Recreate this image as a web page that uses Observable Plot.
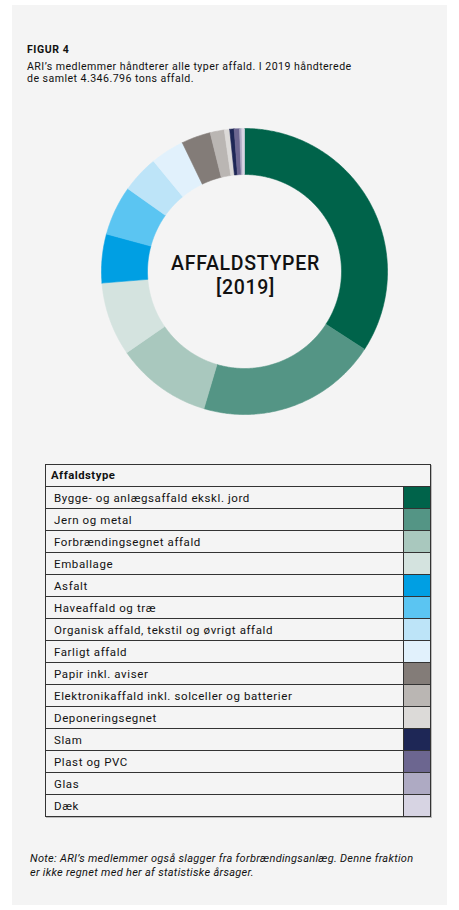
<!DOCTYPE html>
<html><head><meta charset="utf-8">
<script src="https://cdn.jsdelivr.net/npm/d3@7"></script>
<script src="https://cdn.jsdelivr.net/npm/@observablehq/plot@0.6"></script>
<style>
body{margin:0;background:#fff;font-family:Roboto,"Noto Sans",sans-serif;color:#111;width:459px;height:910px;position:relative;overflow:hidden;}
#panel{position:absolute;left:12px;top:5px;width:435px;height:900px;background:#f4f4f4;}
#title{position:absolute;left:27px;top:44px;font-size:10.5px;line-height:12.6px;font-weight:700;letter-spacing:0.6px;}
#subtitle{position:absolute;left:27px;top:60.8px;font-size:10.6px;line-height:12.6px;width:410px;letter-spacing:0.45px;}
#donut{position:absolute;left:94px;top:121px;width:300px;height:300px;}
#donut text{letter-spacing:0.7px;}
#legend{position:absolute;left:45px;top:464px;width:386px;border:1px solid #333;box-sizing:border-box;box-shadow:1px 1px 0 #bbb;}
#legend .head{height:21px;line-height:21px;border-bottom:1px solid #333;font-weight:700;font-size:11.3px;padding-left:5px;letter-spacing:0.5px;}
#legend .row{display:flex;height:21px;border-bottom:1px solid #333;}
#legend .row:last-child{border-bottom:none;}
#legend .lab{flex:1;padding-left:8px;line-height:22px;font-size:11.5px;letter-spacing:0.6px;}
#legend .sw{width:26px;border-left:1px solid #333;}
#note{position:absolute;left:30px;top:852px;font-size:11px;line-height:14px;font-style:italic;width:420px;letter-spacing:0.3px;}
</style></head><body>
<div id="panel"></div>
<div id="title">FIGUR 4</div>
<div id="subtitle">ARI’s medlemmer håndterer alle typer affald. I 2019 håndterede<br>de samlet 4.346.796 tons affald.</div>
<div id="donut"></div>
<div id="legend"></div>
<div id="note">Note: ARI’s medlemmer også slagger fra forbrændingsanlæg. Denne fraktion<br>er ikke regnet med her af statistiske årsager.</div>
<script>
const types = ["Bygge- og anlægsaffald ekskl. jord","Jern og metal","Forbrændingsegnet affald","Emballage","Asfalt","Haveaffald og træ","Organisk affald, tekstil og øvrigt affald","Farligt affald","Papir inkl. aviser","Elektronikaffald inkl. solceller og batterier","Deponeringsegnet","Slam","Plast og PVC","Glas","Dæk"];
const values = [34.1, 20.4, 10.8, 8.3, 5.5, 5.6, 4.2, 3.8, 3.3, 1.6, 0.6, 0.5, 0.6, 0.25, 0.3];
const colors = ["#00634a","#549585","#a9c8be","#d4e3df","#009fe3","#5bc5f2","#bde4f8","#e1f1fc","#837c78","#bab6b3","#dcdad8","#1e2756","#6c6690","#aeaac3","#d7d4e3"];
const centerLabel = "AFFALDSTYPER\n[2019]";

const R_OUT = 143, R_IN = 97;
const total = d3.sum(values);
const pts = [];
let acc = 0;
types.forEach((t, i) => {
  const a0 = acc / total * 2 * Math.PI;
  acc += values[i];
  const a1 = acc / total * 2 * Math.PI;
  const n = Math.max(2, Math.ceil((a1 - a0) / (Math.PI / 360)));
  const ring = [];
  for (let k = 0; k <= n; k++) { const a = a0 + (a1 - a0) * k / n; ring.push([R_OUT * Math.sin(a), R_OUT * Math.cos(a)]); }
  for (let k = n; k >= 0; k--) { const a = a0 + (a1 - a0) * k / n; ring.push([R_IN * Math.sin(a), R_IN * Math.cos(a)]); }
  ring.push(ring[0]);
  ring.forEach(([x, y]) => pts.push({type: t, x, y}));
});

const chart = Plot.plot({
  width: 300, height: 300, margin: 0,
  x: {domain: [-150, 150], axis: null},
  y: {domain: [-150, 150], axis: null},
  color: {domain: types, range: colors},
  style: {background: "transparent", overflow: "visible"},
  marks: [
    Plot.line(pts, {x: "x", y: "y", z: "type", fill: "type", stroke: "type", strokeWidth: 0.6}),
    Plot.text([centerLabel], {text: d => d, frameAnchor: "middle", fontSize: 19.5, fontWeight: 500, lineHeight: 1.25, dy: 3, dx: 1, fill: "#111", fontFamily: "Roboto"})
  ]
});
document.getElementById("donut").appendChild(chart);

const lg = document.getElementById("legend");
const head = document.createElement("div"); head.className = "head"; head.textContent = "Affaldstype"; lg.appendChild(head);
types.forEach((t, i) => {
  const r = document.createElement("div"); r.className = "row";
  const l = document.createElement("div"); l.className = "lab"; l.textContent = t;
  const s = document.createElement("div"); s.className = "sw"; s.style.background = colors[i];
  r.appendChild(l); r.appendChild(s); lg.appendChild(r);
});
</script>
</body></html>
